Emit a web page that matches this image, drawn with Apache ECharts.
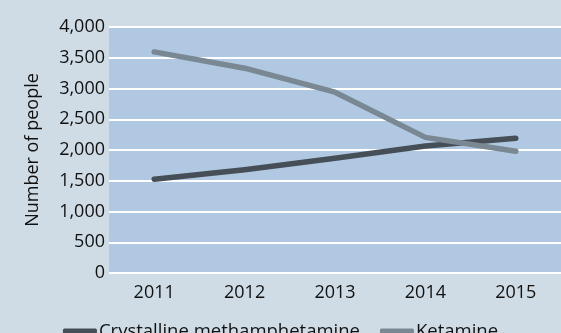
<!DOCTYPE html>
<html>
<head>
<meta charset="utf-8">
<script src="https://cdn.jsdelivr.net/npm/echarts@6/dist/echarts.min.js"></script>
<style>
  html, body { margin: 0; padding: 0; background: #cfdce6; }
  #chart { width: 561px; height: 333px; }
</style>
</head>
<body>
<div id="chart"></div>
<script>
// Years on the category axis
const years = ['2011', '2012', '2013', '2014', '2015'];
// Number of people per year
const crystalMeth = [1525, 1680, 1865, 2065, 2190];
const ketamine = [3595, 3330, 2940, 2205, 1980];
// Value axis range
const yMin = 0;
const yMax = 4000;
const yStep = 500;

const FONT = 'Open Sans';
const chart = echarts.init(document.getElementById('chart'), null, { renderer: 'canvas' });

chart.setOption({
  backgroundColor: '#cfdce6',
  animation: false,
  textStyle: { fontFamily: FONT, color: '#111' },
  grid: {
    left: 109, right: -6, top: 27, bottom: 60,
    show: true, backgroundColor: '#b0c8e1', borderWidth: 0
  },
  legend: {
    left: 'center', top: 317,
    icon: 'roundRect',
    itemWidth: 34, itemHeight: 6, itemGap: 20,
    textStyle: {
      fontFamily: FONT, fontSize: 18.5, color: '#111',
      padding: [0, 0, 0, -3], verticalAlign: 'middle'
    },
    data: ['Crystalline methamphetamine', 'Ketamine']
  },
  xAxis: {
    type: 'category',
    data: years,
    boundaryGap: true,
    axisLine: { show: false },
    axisTick: { show: false },
    axisLabel: { fontFamily: FONT, fontSize: 18, color: '#111', margin: 11 }
  },
  yAxis: {
    type: 'value',
    min: yMin, max: yMax, interval: yStep,
    name: 'Number of people',
    nameLocation: 'middle',
    nameGap: 67,
    nameTextStyle: { fontFamily: FONT, fontSize: 18, color: '#111' },
    axisLine: { show: false },
    axisTick: { show: false },
    axisLabel: {
      fontFamily: FONT, fontSize: 18, color: '#111', margin: 4,
      formatter: v => v.toLocaleString('en-US')
    },
    splitLine: { lineStyle: { color: '#ffffff', width: 2 } }
  },
  series: [
    {
      name: 'Crystalline methamphetamine',
      type: 'line',
      data: crystalMeth,
      symbol: 'none',
      color: '#464f57',
      lineStyle: { width: 5.5, color: '#464f57', cap: 'round', join: 'round' }
    },
    {
      name: 'Ketamine',
      type: 'line',
      data: ketamine,
      symbol: 'none',
      color: '#7a8893',
      lineStyle: { width: 5.5, color: '#7a8893', cap: 'round', join: 'round' }
    }
  ]
});
</script>
</body>
</html>
